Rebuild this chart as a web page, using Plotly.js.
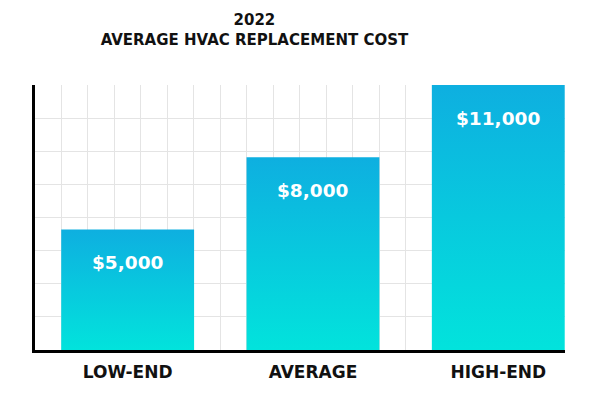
<!DOCTYPE html>
<html>
<head>
<meta charset="utf-8">
<script src="https://cdn.plot.ly/plotly-3.0.1.min.js"></script>
<style>html,body{margin:0;padding:0;background:#fff;}#chart{width:592px;height:394px;}</style>
</head>
<body>
<div id="chart"></div>
<script>
const categories = ["LOW-END", "AVERAGE", "HIGH-END"];
const costs = [5000, 8000, 11000];
const chartTitle = "2022<br>AVERAGE HVAC REPLACEMENT COST";

const xIdx = categories.map((c, i) => i);
const labels = costs.map(v => "$" + v.toLocaleString("en-US"));
const FONT = "DejaVu Sans";

const trace = {
  type: "bar",
  x: xIdx,
  y: costs,
  width: 0.717,
  marker: {color: "#0cc4e0", line: {width: 0}},
  hoverinfo: "skip"
};

const annotations = costs.map((v, i) => ({
  x: i, y: v, xref: "x", yref: "y",
  text: labels[i], showarrow: false,
  yshift: -33,
  font: {family: FONT, size: 18.5, color: "#ffffff", weight: 700}
}));

const layout = {
  width: 592, height: 394,
  margin: {l: 35, r: 27, t: 85, b: 44},
  paper_bgcolor: "#ffffff", plot_bgcolor: "#ffffff",
  showlegend: false,
  title: {
    text: chartTitle,
    x: 0.414, xanchor: "center", xref: "paper",
    yref: "container", y: (394 - 25) / 394, yanchor: "middle",
    font: {family: FONT, size: 15, color: "#111111", weight: 700}
  },
  xaxis: {
    range: [-0.5, 2.36],
    tickvals: xIdx, ticktext: categories,
    showgrid: false, zeroline: false,
    showline: true, linecolor: "#000000", linewidth: 3,
    ticks: "", ticklabelstandoff: 5,
    tickfont: {family: FONT, size: 17, color: "#111111", weight: 700},
    minor: {tick0: -0.5, dtick: 1/7, showgrid: true, gridcolor: "#e4e4e4", gridwidth: 1, ticks: ""},
    fixedrange: true
  },
  yaxis: {
    range: [0, 11000],
    tick0: 0, dtick: 1375,
    showgrid: true, gridcolor: "#e4e4e4", gridwidth: 1,
    zeroline: false, showticklabels: false, ticks: "",
    showline: true, linecolor: "#000000", linewidth: 3,
    fixedrange: true
  },
  annotations: annotations
};

Plotly.newPlot("chart", [trace], layout, {displayModeBar: false, staticPlot: true}).then(gd => {
  const svg = gd.querySelector(".main-svg");
  const ns = "http://www.w3.org/2000/svg";
  let defs = svg.querySelector("defs");
  if (!defs) { defs = document.createElementNS(ns, "defs"); svg.insertBefore(defs, svg.firstChild); }
  const grad = document.createElementNS(ns, "linearGradient");
  grad.setAttribute("id", "barGrad");
  grad.setAttribute("x1", "0"); grad.setAttribute("y1", "0");
  grad.setAttribute("x2", "0"); grad.setAttribute("y2", "1");
  [["0", "#0eafe0"], ["1", "#02e3dc"]].forEach(([o, c]) => {
    const s = document.createElementNS(ns, "stop");
    s.setAttribute("offset", o); s.setAttribute("stop-color", c);
    grad.appendChild(s);
  });
  defs.appendChild(grad);
  gd.querySelectorAll(".trace.bars .point path").forEach(p => {
    p.style.fill = "url(#barGrad)";
  });
});
</script>
</body>
</html>
